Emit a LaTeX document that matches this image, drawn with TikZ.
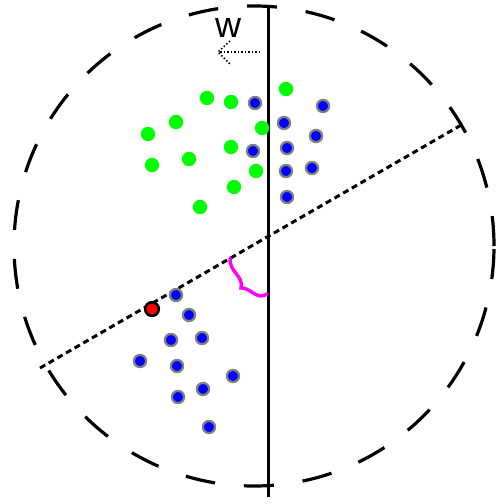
\documentclass[tikz,border=0pt]{standalone}
\usepackage{fontspec}
\setsansfont{Liberation Sans}
\usetikzlibrary{arrows.meta,calc,positioning}
\definecolor{mymag}{RGB}{255,0,255}
\definecolor{mygrn}{RGB}{0,255,0}
\definecolor{myblu}{RGB}{0,0,255}
\definecolor{mygry}{RGB}{128,128,128}
\definecolor{myrd}{RGB}{255,0,0}
\tikzset{
    mygreen/.style={fill=mygrn,draw=none},
    myblue/.style={fill=myblu,draw=mygry,line width=2.2pt},
    myred/.style={fill=myrd,draw=black,line width=2.6pt},
    myaxis/.style={line width=3pt,draw=black},
    mysep/.style={line width=3pt,draw=black,dash pattern=on 6pt off 4pt},
    myball/.style={line width=3.2pt,draw=black,dash pattern=on 30pt off 29pt},
    mymargin/.style={line width=3.4pt,draw=mymag,line cap=round},
    mydir/.style={line width=1.5pt,draw=black,dotted}
}

\begin{document}
\begin{tikzpicture}[x=1pt,y=-1pt]
          \useasboundingbox (0,0) rectangle (498,504);
          % ball round the data
          \coordinate (O) at (254,246);
          \draw[myball] (O) circle (240pt);
          % normal vector w
          \coordinate (wtop) at (268,5);
          \coordinate (wbot) at (268,497);
          \draw[myaxis] (wtop)--(wbot);
          \coordinate (dA) at (260,52);
          \coordinate (dB) at (218,52);
          \draw[mydir] (dA)--(dB);
          \draw[mydir] ($(dB)+(12,-11)$)--(dB)--($(dB)+(12,12)$);
          \node[font=\sffamily\fontsize{36}{36}\selectfont,inner sep=0pt] (wlab) at (228,28) {w};
          % separating line
          \coordinate (hL) at (40,368);
          \coordinate (hR) at (463,124);
          \draw[mysep] (hL)--(hR);
          % margin
          \coordinate (mA) at (230,258);
          \coordinate (mB) at (241,288);
          \coordinate (mC) at (267,294);
          \draw[mymargin] (mA) .. controls (229,272) and (244,276) .. (mB)
                               .. controls (250,287) and (257,301) .. (mC);
          % points
          \foreach \x/\y in {207/98,231/102,286/89,176/122,148/134,262/128,
                             152/165,189/159,231/147,256/171,234/187,200/207}
            {\fill[mygreen] (\x,\y) circle (7.2pt);}
          \foreach \x/\y in {255/103,323/106,284/123,316/136,253/151,287/148,
                             312/168,286/171,287/197,
                             176/295,189/315,171/340,202/338,140/361,
                             177/366,233/376,203/389,178/397,209/427}
            {\filldraw[myblue] (\x,\y) circle (6.1pt);}
          \filldraw[myred] (152,309) circle (6.8pt);
        \end{tikzpicture}
\end{document}
